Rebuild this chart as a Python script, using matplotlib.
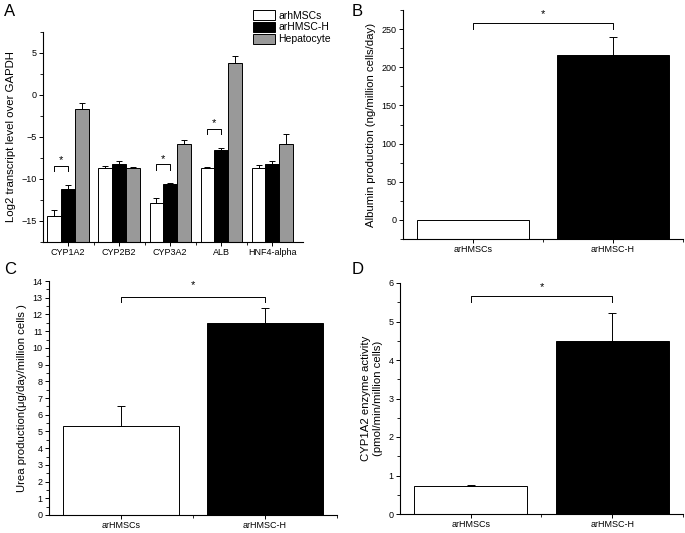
import matplotlib
matplotlib.use('Agg')
import matplotlib.pyplot as plt
from matplotlib.ticker import MultipleLocator, FixedLocator
import numpy as np

plt.rcParams['font.family'] = ['Liberation Sans', 'DejaVu Sans']
plt.rcParams['axes.linewidth'] = 0.8

# panel A data
genes = ['CYP1A2', 'CYP2B2', 'CYP3A2', 'ALB', 'HNF4-alpha']
groups = ['arhMSCs', 'arHMSC-H', 'Hepatocyte']
msc = [-14.4, -8.7, -12.8, -8.7, -8.7]
msc_err = [0.7, 0.3, 0.5, 0.1, 0.4]
hmsc_h = [-11.2, -8.2, -10.6, -6.6, -8.2]
hmsc_h_err = [0.5, 0.4, 0.1, 0.3, 0.3]
hep = [-1.7, -8.7, -5.8, 3.8, -5.8]
hep_err = [0.7, 0.1, 0.5, 0.8, 1.1]
sig_genes = ['CYP1A2', 'CYP3A2', 'ALB']

# panels B, C, D
cells = ['arHMSCs', 'arHMSC-H']
albumin = [0, 216]
albumin_err = [0, 23]
urea = [5.35, 11.5]
urea_err = [1.2, 0.9]
cyp_act = [0.72, 4.5]
cyp_act_err = [0.03, 0.72]

colors = ['white', 'black', '#999999']
tick_fs = 6.5
lab_fs = 8.2

fig = plt.figure(figsize=(6.85, 5.33), dpi=100)


def style(ax):
    for s in ['top', 'right']:
        ax.spines[s].set_visible(False)
    ax.tick_params(direction='out', labelsize=tick_fs, length=3, width=0.7, pad=1.5)
    ax.tick_params(which='minor', direction='out', length=2, width=0.6)


def bracket(ax, x1, x2, y, leg, star_y):
    ax.plot([x1, x1, x2, x2], [y - leg, y, y, y - leg], color='black', lw=0.7)
    ax.text((x1 + x2) / 2, star_y, '*', ha='center', va='center', fontsize=8)


# ---- A ----
axA = fig.add_axes([43/685, 1-242/533, 260/685, 210/533])
x = np.arange(len(genes))
w = 0.27
bottom_A = -17.5
for k, (vals, errs) in enumerate([(msc, msc_err), (hmsc_h, hmsc_h_err), (hep, hep_err)]):
    vals = np.array(vals)
    axA.bar(x + (k - 1) * w, vals - bottom_A, w, bottom=bottom_A, color=colors[k],
            edgecolor='black', linewidth=0.7, label=groups[k],
            yerr=[np.zeros(len(vals)), errs], error_kw=dict(lw=0.7, capsize=2.5, capthick=0.7))
axA.set_ylim(-17.5, 7.5)
axA.set_xlim(-0.49, 4.6)
axA.set_xticks(x)
axA.set_xticklabels(genes)
axA.xaxis.set_minor_locator(FixedLocator(x[:-1] + 0.5))
axA.yaxis.set_major_locator(MultipleLocator(5))
axA.yaxis.set_minor_locator(MultipleLocator(2.5))
axA.set_ylabel('Log2 transcript level over GAPDH', fontsize=lab_fs)
style(axA)
for g in sig_genes:
    i = genes.index(g)
    top = max(msc[i] + msc_err[i], hmsc_h[i] + hmsc_h_err[i])
    bracket(axA, i - w, i, top + 2.3, 0.7, top + 2.9)
fig.legend(loc='upper left', bbox_to_anchor=(253/685, 1-10/533), frameon=False,
           fontsize=7.5, handlelength=2.1, handleheight=1.1, labelspacing=0.12,
           handletextpad=0.35, borderpad=0, borderaxespad=0)

# ---- B ----
axB = fig.add_axes([403/685, 1-239/533, 280/685, 229/533])
xb = np.array([1, 2])
axB.bar(xb, np.array(albumin) + 25, 0.8, bottom=-25, color=['white', 'black'],
        edgecolor='black', linewidth=0.7)
axB.errorbar(xb[1:], albumin[1:], yerr=[[0], albumin_err[1:]], fmt='none',
             ecolor='black', lw=0.7, capsize=3, capthick=0.7)
axB.set_ylim(-25, 275)
axB.set_xlim(0.5, 2.5)
axB.set_xticks(xb)
axB.set_xticklabels(cells)
axB.xaxis.set_minor_locator(FixedLocator([1.5, 2.5]))
axB.yaxis.set_major_locator(MultipleLocator(50))
axB.yaxis.set_minor_locator(MultipleLocator(25))
axB.set_ylabel('Albumin production (ng/million cells/day)', fontsize=lab_fs)
style(axB)
bracket(axB, 1, 2, 258, 8, 270)

# ---- C ----
axC = fig.add_axes([49/685, 1-515/533, 288/685, 234/533])
axC.bar(xb, urea, 0.8, color=['white', 'black'], edgecolor='black', linewidth=0.7)
axC.errorbar(xb, urea, yerr=[[0, 0], urea_err], fmt='none',
             ecolor='black', lw=0.7, capsize=3, capthick=0.7)
axC.set_ylim(0, 14)
axC.set_xlim(0.5, 2.5)
axC.set_xticks(xb)
axC.set_xticklabels(cells)
axC.xaxis.set_minor_locator(FixedLocator([1.5, 2.5]))
axC.yaxis.set_major_locator(MultipleLocator(1))
axC.yaxis.set_minor_locator(MultipleLocator(0.5))
axC.set_ylabel('Urea production(\u03bcg/day/million cells )', fontsize=lab_fs)
style(axC)
bracket(axC, 1, 2, 13.05, 0.3, 13.75)

# ---- D ----
axD = fig.add_axes([400/685, 1-514/533, 283/685, 231/533])
axD.bar(xb, cyp_act, 0.8, color=['white', 'black'], edgecolor='black', linewidth=0.7)
axD.errorbar(xb, cyp_act, yerr=[[0, 0], cyp_act_err], fmt='none',
             ecolor='black', lw=0.7, capsize=3, capthick=0.7)
axD.set_ylim(0, 6)
axD.set_xlim(0.5, 2.5)
axD.set_xticks(xb)
axD.set_xticklabels(cells)
axD.xaxis.set_minor_locator(FixedLocator([1.5, 2.5]))
axD.yaxis.set_major_locator(MultipleLocator(1))
axD.yaxis.set_minor_locator(MultipleLocator(0.5))
axD.set_ylabel('CYP1A2 enzyme activity\n(pmol/min/million cells)', fontsize=lab_fs)
style(axD)
bracket(axD, 1, 2, 5.65, 0.15, 5.9)

# panel letters
for lbl, (px, py) in zip('ABCD', [(4, 4), (352, 4), (4, 262), (352, 262)]):
    fig.text(px/685, 1-py/533, lbl, fontsize=12, ha='left', va='top')

fig.savefig('out.png', dpi=100)
